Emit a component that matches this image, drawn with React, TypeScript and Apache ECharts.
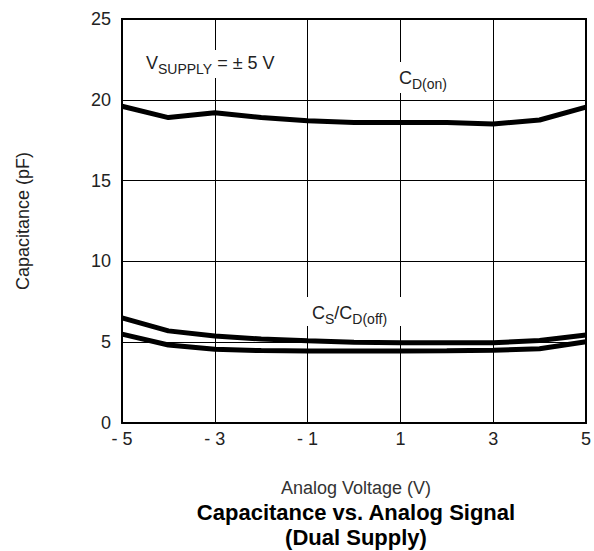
import React, { useEffect, useRef } from "react";
import * as echarts from "echarts";

const xValues = [-5, -4, -3, -2, -1, 0, 1, 2, 3, 4, 5];
const cdOn = [19.6, 18.9, 19.2, 18.9, 18.7, 18.6, 18.6, 18.6, 18.5, 18.75, 19.55];
const csUpper = [6.5, 5.7, 5.38, 5.2, 5.09, 5.0, 4.97, 4.97, 4.97, 5.1, 5.45];
const csLower = [5.5, 4.83, 4.56, 4.48, 4.45, 4.45, 4.45, 4.47, 4.5, 4.6, 5.03];
const xTickLabels: Record<number, string> = { [-5]: "- 5", [-3]: "- 3", [-1]: "- 1", 1: "1", 3: "3", 5: "5" };

const FONT = "'Liberation Sans', Arial, Helvetica, sans-serif";
const TXT = "#222";

const rich = {
  v: { fontSize: 18, fontFamily: FONT, fill: TXT, verticalAlign: "bottom", lineHeight: 20 },
  s: { fontSize: 14, fontFamily: FONT, fill: TXT, verticalAlign: "bottom", lineHeight: 14, padding: [0, 0, -4, 0] },
};

export default function App() {
  const ref = useRef<HTMLDivElement>(null);
  useEffect(() => {
    const chart = echarts.init(ref.current!, null, { renderer: "svg" });
    const mk = (vals: number[]) => vals.map((v, i) => [xValues[i], v]);
    const lineStyle = { color: "#000", width: 5 };
    chart.setOption({
      animation: false,
      textStyle: { fontFamily: FONT },
      grid: { left: 122, right: 8, top: 19, bottom: 128, show: false },
      xAxis: {
        type: "value",
        min: -5,
        max: 5,
        interval: 2,
        axisLine: { show: true, onZero: false, lineStyle: { color: "#000", width: 2 } },
        axisTick: { show: false },
        axisLabel: {
          color: TXT,
          fontSize: 18,
          fontFamily: FONT,
          margin: 7,
          formatter: (v: number) => xTickLabels[v] ?? String(v),
        },
        splitLine: { show: true, lineStyle: { color: "#000", width: 1 } },
      },
      yAxis: {
        type: "value",
        min: 0,
        max: 25,
        interval: 5,
        axisLine: { show: true, onZero: false, lineStyle: { color: "#000", width: 2 } },
        axisTick: { show: false },
        axisLabel: { color: TXT, fontSize: 18, fontFamily: FONT, margin: 11 },
        splitLine: { show: true, lineStyle: { color: "#000", width: 1 } },
      },
      series: [
        { type: "line", data: mk(cdOn), symbol: "none", lineStyle, z: 3 },
        { type: "line", data: mk(csUpper), symbol: "none", lineStyle, z: 3 },
        { type: "line", data: mk(csLower), symbol: "none", lineStyle, z: 3 },
      ],
      graphic: [
        { type: "rect", shape: { x: 585, y: 18, width: 2, height: 406 }, style: { fill: "#000" }, z: 5 },
        { type: "rect", shape: { x: 121, y: 18, width: 466, height: 2 }, style: { fill: "#000" }, z: 5 },
        // white boxes breaking the grid behind annotations
        { type: "rect", shape: { x: 143, y: 50, width: 142, height: 28 }, style: { fill: "#fff" }, z: 8 },
        { type: "rect", shape: { x: 395, y: 62, width: 62, height: 31 }, style: { fill: "#fff" }, z: 8 },
        { type: "rect", shape: { x: 303, y: 297, width: 102, height: 29 }, style: { fill: "#fff" }, z: 8 },
        {
          type: "text",
          x: 146,
          y: 52,
          z: 10,
          style: { text: "{v|V}{s|SUPPLY}{v| = ± 5 V}", fontFamily: FONT, rich },
        },
        {
          type: "text",
          x: 399,
          y: 67,
          z: 10,
          style: { text: "{v|C}{s|D(on)}", fontFamily: FONT, rich },
        },
        {
          type: "text",
          x: 312,
          y: 302,
          z: 10,
          style: { text: "{v|C}{s|S}{v|/C}{s|D(off)}", fontFamily: FONT, rich },
        },
        {
          type: "text",
          x: 23,
          y: 221,
          rotation: Math.PI / 2,
          style: {
            text: "Capacitance (pF)",
            fontSize: 18,
            fontFamily: FONT,
            fill: TXT,
            align: "center",
            verticalAlign: "middle",
          },
        },
        {
          type: "text",
          x: 356,
          y: 488,
          style: {
            text: "Analog Voltage (V)",
            fontSize: 18,
            fontFamily: FONT,
            fill: "#333",
            align: "center",
            verticalAlign: "middle",
          },
        },
        {
          type: "text",
          x: 356,
          y: 512,
          style: {
            text: "Capacitance vs. Analog Signal",
            fontSize: 22,
            fontWeight: "bold",
            fontFamily: FONT,
            fill: "#000",
            align: "center",
            verticalAlign: "middle",
          },
        },
        {
          type: "text",
          x: 356,
          y: 537,
          style: {
            text: "(Dual Supply)",
            fontSize: 22,
            fontWeight: "bold",
            fontFamily: FONT,
            fill: "#000",
            align: "center",
            verticalAlign: "middle",
          },
        },
      ],
    });
    return () => chart.dispose();
  }, []);
  return <div ref={ref} style={{ position: "fixed", left: 0, top: 0, width: 594, height: 551, background: "#fff" }} />;
}
